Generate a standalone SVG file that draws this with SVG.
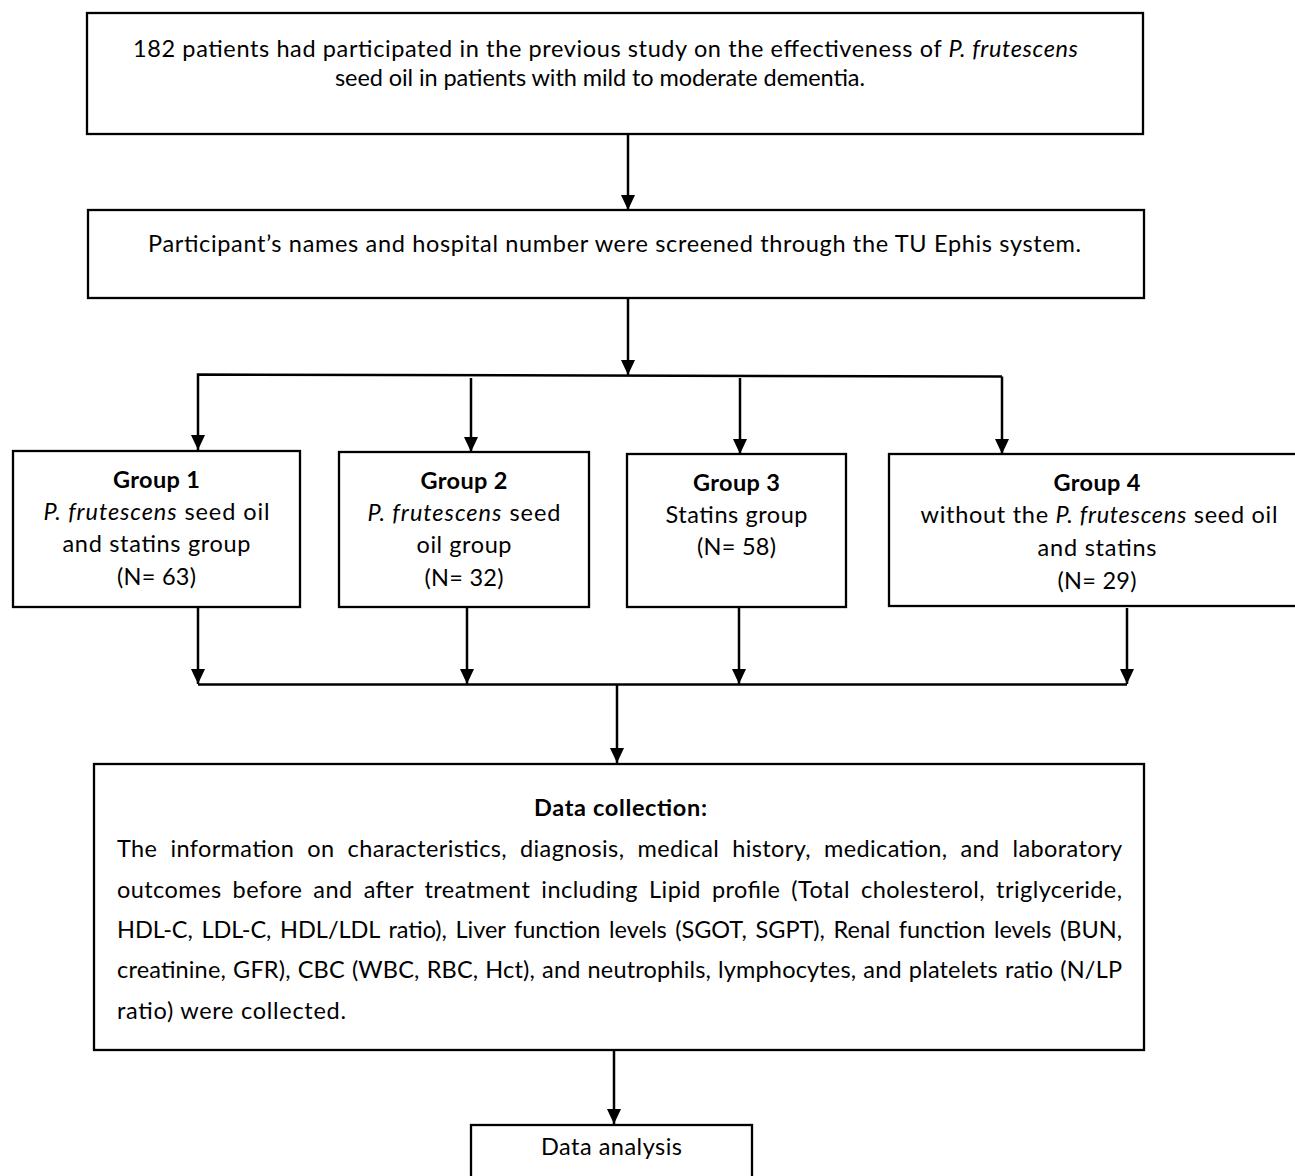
<svg xmlns="http://www.w3.org/2000/svg" width="1295" height="1176" viewBox="0 0 1295 1176">
<style>
  .box { fill: #ffffff; stroke: #000000; stroke-width: 2.3; }
  .t { font-family: Lato, "Liberation Sans", sans-serif; font-size: 23.5px; fill: #000000; }
  .c { text-anchor: middle; }
  .b { font-weight: bold; }
  .i { font-style: italic; }
  .con { fill: none; stroke: #000000; stroke-width: 2.5; }
</style>
<defs>
  <marker id="ah" viewBox="0 0 15 14" refX="15" refY="7" markerWidth="15" markerHeight="14" markerUnits="userSpaceOnUse" orient="auto">
    <path d="M0,0 L15,7 L0,14 z" fill="#000000"/>
  </marker>
</defs>
<rect width="1295" height="1176" fill="#ffffff"/>

<g id="connectors">
  <path class="con" d="M628,134 V210" marker-end="url(#ah)"/>
  <path class="con" d="M628,298 V375" marker-end="url(#ah)"/>
  <path class="con" d="M1002,376.5 L198,374.5 L198,450" marker-end="url(#ah)"/>
  <path class="con" d="M471,378 V452" marker-end="url(#ah)"/>
  <path class="con" d="M740,378 V454" marker-end="url(#ah)"/>
  <path class="con" d="M1002,376.5 V454" marker-end="url(#ah)"/>
  <path class="con" d="M198,608 V684" marker-end="url(#ah)"/>
  <path class="con" d="M467,608 V684" marker-end="url(#ah)"/>
  <path class="con" d="M739,608 V684" marker-end="url(#ah)"/>
  <path class="con" d="M1127,608 V684" marker-end="url(#ah)"/>
  <path class="con" d="M198,684.5 H1127"/>
  <path class="con" d="M617,684.5 V763" marker-end="url(#ah)"/>
  <path class="con" d="M614,1050 V1124" marker-end="url(#ah)"/>
</g>

<g id="node-source">
  <rect class="box" x="87" y="13" width="1056" height="121"/>
  <text class="t" x="133" y="57" textLength="945" lengthAdjust="spacing">182 patients had participated in the previous study on the effectiveness of <tspan class="i">P. frutescens</tspan></text>
  <text class="t" x="335" y="86" textLength="530" lengthAdjust="spacing">seed oil in patients with mild to moderate dementia.</text>
</g>

<g id="node-screen">
  <rect class="box" x="88" y="210" width="1056" height="88"/>
  <text class="t" x="148" y="252" textLength="933" lengthAdjust="spacing">Participant’s names and hospital number were screened through the TU Ephis system.</text>
</g>

<g id="node-group1">
  <rect class="box" x="13" y="451" width="287" height="156"/>
  <text class="t c b" x="156.5" y="488" textLength="87" lengthAdjust="spacing">Group 1</text>
  <text class="t c" x="156.5" y="520" textLength="226" lengthAdjust="spacing"><tspan class="i">P. frutescens</tspan> seed oil</text>
  <text class="t c" x="156.5" y="552" textLength="188" lengthAdjust="spacing">and statins group</text>
  <text class="t c" x="156.5" y="585" textLength="79" lengthAdjust="spacing">(N= 63)</text>
</g>

<g id="node-group2">
  <rect class="box" x="339" y="452" width="250" height="155"/>
  <text class="t c b" x="464" y="489" textLength="87" lengthAdjust="spacing">Group 2</text>
  <text class="t c" x="464" y="521" textLength="193" lengthAdjust="spacing"><tspan class="i">P. frutescens</tspan> seed</text>
  <text class="t c" x="464" y="553" textLength="95" lengthAdjust="spacing">oil group</text>
  <text class="t c" x="464" y="586" textLength="79" lengthAdjust="spacing">(N= 32)</text>
</g>

<g id="node-group3">
  <rect class="box" x="627" y="454" width="219" height="153"/>
  <text class="t c b" x="736.5" y="491" textLength="87" lengthAdjust="spacing">Group 3</text>
  <text class="t c" x="736.5" y="523" textLength="142" lengthAdjust="spacing">Statins group</text>
  <text class="t c" x="736.5" y="555" textLength="79" lengthAdjust="spacing">(N= 58)</text>
</g>

<g id="node-group4">
  <rect class="box" x="889" y="454" width="420" height="152"/>
  <text class="t c b" x="1097" y="491" textLength="87" lengthAdjust="spacing">Group 4</text>
  <text class="t c" x="1099" y="523" textLength="357" lengthAdjust="spacing">without the <tspan class="i">P. frutescens</tspan> seed oil</text>
  <text class="t c" x="1097" y="556" textLength="119" lengthAdjust="spacing">and statins</text>
  <text class="t c" x="1097" y="589" textLength="79" lengthAdjust="spacing">(N= 29)</text>
</g>

<g id="node-datacollection">
  <rect class="box" x="94" y="764" width="1050" height="286"/>
  <text class="t c b" x="620.5" y="816" textLength="173" lengthAdjust="spacing">Data collection:</text>
  <text class="t" x="117" y="857" word-spacing="6.6" textLength="1005" lengthAdjust="spacing">The information on characteristics, diagnosis, medical history, medication, and laboratory</text>
  <text class="t" x="117" y="898" word-spacing="4.6" textLength="1005" lengthAdjust="spacing">outcomes before and after treatment including Lipid profile (Total cholesterol, triglyceride,</text>
  <text class="t" x="117" y="938" word-spacing="2.7" textLength="1005" lengthAdjust="spacing">HDL-C, LDL-C, HDL/LDL ratio), Liver function levels (SGOT, SGPT), Renal function levels (BUN,</text>
  <text class="t" x="117" y="978" word-spacing="0.9" textLength="1005" lengthAdjust="spacing">creatinine, GFR), CBC (WBC, RBC, Hct), and neutrophils, lymphocytes, and platelets ratio (N/LP</text>
  <text class="t" x="117" y="1019" textLength="229" lengthAdjust="spacing">ratio) were collected.</text>
</g>

<g id="node-dataanalysis">
  <rect class="box" x="471" y="1125" width="281" height="80"/>
  <text class="t c" x="611.5" y="1155" textLength="141" lengthAdjust="spacing">Data analysis</text>
</g>
</svg>
